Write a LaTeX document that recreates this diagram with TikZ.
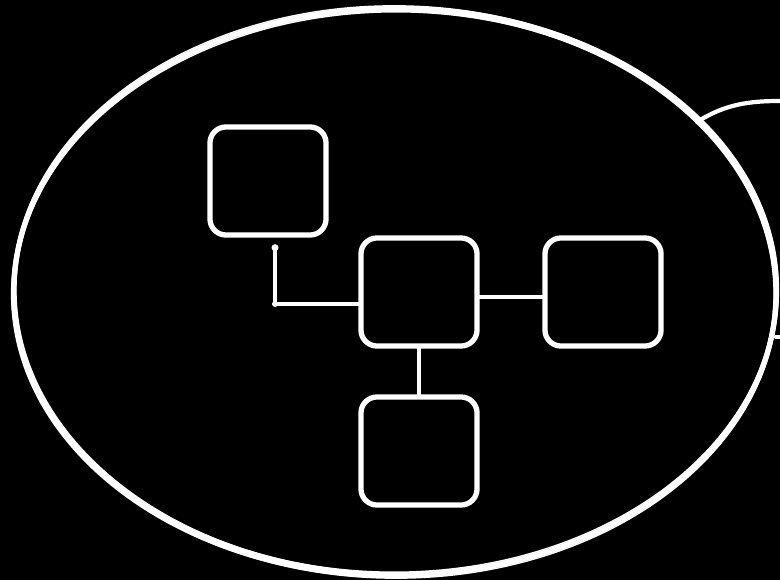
\documentclass[tikz,border=0pt]{standalone}
\usepackage{tikz}
\usetikzlibrary{arrows.meta, calc, positioning}

\begin{document}
\begin{tikzpicture}[x=0.01cm, y=-0.01cm,
        box/.style={draw=white, line width=1.5pt, rounded corners=0.16cm,
            minimum width=1.16cm, minimum height=1.08cm, inner sep=0pt},
        link/.style={draw=white, line width=1.1pt, line cap=round},
        rim/.style={draw=white, line cap=round}]
        % Night background
        \fill[black] (0,0) rectangle (780,580);
        \useasboundingbox (0,0) rectangle (780,580);

        % Outer blob, sketched in a few strokes
        \foreach \dx/\dy/\w in {0/0/1.5, 2/-2/0.5, -2/2/0.5, 1/3/0.4, -1/-3/0.4}
            \draw[rim, line width=\w pt] (395+\dx, 292+\dy) ellipse [x radius=3.81cm, y radius=2.83cm];

        % Neighbour blob at the right edge
        \draw[rim, line width=1.2pt] (697,122) .. controls (725,104) and (750,101) .. (780,101);
        \draw[rim, line width=1.2pt] (776,337) -- (780,337);

        % Boxes
        \node[box] (top) at (268,181) {};
        \node[box] (hub) at (419,292) {};
        \node[box] (east) at (603,292) {};
        \node[box] (south) at (419,451) {};

        % Links
        \coordinate (drop) at ($(top.south)+(7,10)$);
        \coordinate (bend) at (drop |- {$(hub.west)+(0,12)$});
        \draw[link] (drop) -- (bend) -- ($(hub.west)+(0,12)$);
        \draw[link] ($(hub.east)+(0,5)$) -- ($(east.west)+(0,5)$);
        \draw[link] (hub.south) -- (south.north);
        \fill[white] (drop) circle (0.035cm);
        \fill[white] (bend) circle (0.03cm);
    \end{tikzpicture}
\end{document}
